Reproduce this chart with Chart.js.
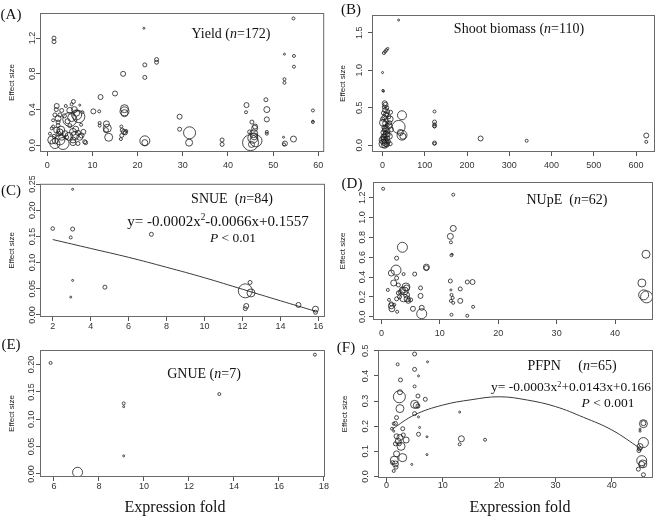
<!DOCTYPE html>
<html><head><meta charset="utf-8">
<script src="https://cdn.jsdelivr.net/npm/chart.js@4"></script>
<style>
html,body{margin:0;padding:0;background:#fff;}
#wrap{position:relative;width:658px;height:518px;overflow:hidden;background:#fff;}
#wrap canvas{position:absolute;}
.t{position:absolute;font-family:"Liberation Serif","Times New Roman",serif;font-size:15px;color:#111;white-space:nowrap;line-height:1;transform:translate(-50%,-50%);}
.t sup{font-size:0.62em;vertical-align:0.55em;line-height:0;}
</style></head><body><div id="wrap"></div>
<script>
// ---------- DATA ----------
// (A) Yield
const A_X = [1.5,1.5,21.4,21.6,21.6,24.2,24.2,16.8,15.0,11.8,
 10.2,11.5,17.1,17.1,17.1,11.6,11.6,13.1,13.3,13.6,
 13.0,16.4,16.6,17.0,17.3,16.5,16.3,17.5,21.6,21.6,
 29.3,29.3,31.5,31.4,38.7,38.7,44.1,44.0,45.0,45.5,
 45.7,45.9,45.3,46.2,45.2,45.8,46.0,44.8,48.4,48.6,
 48.6,48.6,48.6,52.5,52.5,52.5,52.3,52.6,52.4,54.5,
 54.6,54.6,54.5,58.8,58.8,58.8,8.5,2.1,4.1,5.4,
 5.8,7.2,3.2,5.0,5.4,6.5,7.0,5.0,1.7,1.3,
 2.4,2.1,2.8,1.3,1.0,1.7,3.5,3.2,3.9,5.7,
 6.1,5.7,7.6,8.0,6.8,8.3,5.0,4.3,2.4,0.6,
 2.8,2.4,2.8,6.5,7.2,5.7,6.0,2.5,1.5,3.0,
 4.5,6.3,7.8,1.0,3.8,4.8,1.8,7.5,6.8,2.0];
const A_Y = [1.20,1.16,1.31,0.90,0.76,0.96,0.93,0.80,0.58,0.54,
 0.38,0.38,0.41,0.38,0.36,0.25,0.22,0.24,0.19,0.09,
 0.17,0.21,0.17,0.15,0.14,0.11,0.07,0.16,0.05,0.03,
 0.32,0.18,0.14,0.03,0.06,0.01,0.45,0.37,0.03,0.08,
 0.13,0.19,0.26,0.05,0.01,0.10,0.21,0.15,0.51,0.40,
 0.29,0.15,0.13,1.02,0.74,0.70,0.09,0.02,0.01,1.42,
 1.00,0.88,0.07,0.39,0.26,0.27,0.03,0.44,0.44,0.46,
 0.49,0.45,0.39,0.39,0.31,0.36,0.32,0.29,0.34,0.28,
 0.26,0.17,0.15,0.21,0.06,0.02,0.02,0.09,0.13,0.15,
 0.11,0.06,0.11,0.15,0.02,0.04,0.22,0.09,0.22,0.13,
 0.34,0.30,0.06,0.34,0.09,0.03,0.40,0.13,0.10,0.17,
 0.27,0.18,0.37,0.19,0.33,0.10,0.05,0.23,0.14,0.40];
const A_W = [2,2,1,2,2,2,2,2.5,2.5,2.5,
 2.5,1.5,4,4.5,3.5,1.5,1.5,3,4,4,
 2.5,1.5,2,2.5,2,2,1.5,1.5,5,3,
 2.5,2,6,3.5,2,2,2.5,1.5,8,5,
 4,3,2,6,3,3.5,2.5,2,2,3,
 2.5,1.5,1.5,1,1.5,1.5,1,2.5,1.5,1.5,
 1.5,1.5,3,1.5,1.5,1,2,2.5,1.5,1.5,
 2,1,2,3,4,3,6,7,2,1.5,
 2,3,3,1.5,4,5,6,3,3,3.5,
 4,3,2.5,2.5,2,2,2,2,2,1.5,
 2,3,5,5,3,3,3,2.5,2,4,
 2.5,3,1.5,1.5,2,4,3,1.5,2.5,2];

// (B) Shoot biomass
const B_X = [38,3,6,9,12,0,1,2,
 5,7,4,10,6,12,2,8,15,4,
 18,9,1,6,11,15,3,7,20,13,
 2,9,5,16,1,11,0,6,14,3,
 8,1,10,5,18,2,12,4,8,17,
 0,10,19,3,7,
 46,38,46,48,42,123,123,123,123,123,123,123,232,341,624,624];
const B_Y = [1.67,1.23,1.25,1.27,1.29,0.97,0.73,0.72,
 0.56,0.54,0.51,0.50,0.47,0.45,0.43,0.41,0.38,0.37,
 0.35,0.33,0.30,0.29,0.27,0.26,0.24,0.22,0.21,0.19,
 0.17,0.15,0.13,0.12,0.10,0.09,0.07,0.06,0.05,0.04,
 0.03,0.02,0.01,0.00,0.02,0.08,0.14,0.20,0.25,0.30,
 0.35,0.40,0.44,0.11,0.17,
 0.40,0.245,0.135,0.12,0.17,0.45,0.31,0.28,0.26,0.25,0.03,0.02,0.09,0.06,0.13,0.045];
const B_W = [1,1.5,1.5,1.5,1.2,1,1.2,1,
 2.5,2.5,2,2,2.5,2,2,2.5,2,2.5,
 3,2,3.5,2.5,2,3,2,3,2.5,2,
 2.5,3,2.5,3,2,2.5,3.5,3,2,3,
 3.5,4,2.5,3,2,2.5,2.5,2,2,2,
 2,2,2,3,2,
 4.5,6.5,5,3,3,1.5,2,1.5,2,1.5,2,1.5,2.5,1.5,2.5,1.5];

// (C) SNUE
const C_X = [2.0,3.05,2.95,3.05,3.05,2.95,4.75,7.2,12.15,12.4,12.45,12.2,12.15,14.95,15.85,15.85];
const C_Y = [0.165,0.240,0.148,0.164,0.066,0.034,0.053,0.154,0.046,0.062,0.042,0.017,0.012,0.019,0.011,0.005];
const C_W = [1.8,1,1.5,2,1,1,2,2,7,2,4,2.5,2,2.5,3,2];
const C_FIT_X = [2.0,4,6,8,10,12,14,15.85];
const C_FIT_Y = [0.144,0.127,0.110,0.091,0.071,0.049,0.027,0.007];

// (D) NUpE
const D_X = [0.3,12.3,12.3,11.8,11.9,12.0,12.1,3.6,2.6,7.7,
 7.7,1.7,2.5,3.8,5.7,2.6,2.1,2.9,4.2,4.3,
 3.9,3.6,3.2,2.9,1.1,1.3,1.7,1.7,1.8,2.6,
 2.7,3.8,4.3,4.4,4.6,5.4,6.7,6.7,6.9,6.9,
 11.8,11.9,12.0,12.2,11.9,12.3,12.0,13.5,13.5,14.7,
 15.6,15.7,14.7,44.6,45.3,44.9,45.4,3.1,2.2,5.0];
const D_Y = [1.29,1.23,0.89,0.81,0.75,0.62,0.63,0.70,0.59,0.50,
 0.49,0.44,0.47,0.43,0.43,0.39,0.34,0.32,0.30,0.29,
 0.26,0.27,0.25,0.24,0.27,0.17,0.13,0.11,0.08,0.18,
 0.05,0.19,0.22,0.18,0.16,0.08,0.29,0.21,0.09,0.03,
 0.36,0.27,0.22,0.19,0.16,0.14,0.02,0.28,0.16,0.35,
 0.35,0.10,0.01,0.34,0.63,0.22,0.20,0.20,0.12,0.17];
const D_W = [1.5,1.5,3,3,1.5,1.5,1,5,2,3,
 2.5,3,5,1.5,2,2,3,2,4,3,
 4,3,2,2,1.5,1.5,2,3,3,2,
 1.5,4,3,3,2.5,2.5,2,2.5,2.5,5,
 2,1,1.5,1.5,1.5,1.5,1.5,2,2.5,2,
 2.5,1.5,1.5,4,4,5,6,2,1.5,2];

// (E) GNUE
const E_X = [5.85,7.05,9.1,9.1,9.1,13.35,17.6];
const E_Y = [0.203,0.003,0.129,0.123,0.033,0.146,0.218];
const E_W = [1.5,5,1.5,1,1,1.5,1.5];

// (F) PFPN
const F_X = [5.0,2.0,7.3,5.0,5.7,2.5,5.0,2.3,2.4,5.6,
 6.9,5.0,5.3,2.4,5.6,5.0,5.7,1.8,1.6,1.3,
 13.0,2.9,1.3,5.9,1.8,2.4,2.1,1.6,2.6,3.5,
 2.3,5.7,7.2,13.3,13.0,17.5,7.2,2.9,1.8,1.4,
 1.6,1.1,1.7,1.3,4.5,45.6,45.6,45.0,45.0,45.6,
 45.0,44.9,44.8,45.3,45.5,45.3,44.7,45.6,1.0,3.0];
const F_Y = [0.487,0.446,0.456,0.426,0.400,0.384,0.358,0.317,0.335,0.320,
 0.307,0.287,0.283,0.270,0.280,0.250,0.237,0.234,0.211,0.210,
 0.256,0.190,0.180,0.195,0.160,0.155,0.140,0.130,0.120,0.145,
 0.130,0.168,0.158,0.150,0.128,0.146,0.087,0.075,0.090,0.065,
 0.050,0.055,0.037,0.022,0.048,0.212,0.210,0.188,0.180,0.135,
 0.119,0.110,0.103,0.063,0.050,0.048,0.029,0.007,0.190,0.165];
const F_W = [2,1.5,1,2,1,2,1.5,6,2.5,2,
 2,4,3,4,2,2,1,2,2,1.5,
 1,2,1,1,2.5,3,3,2,4,3,
 2,2,1,3,1.5,1.5,1,4,3,4,
 3,2,2,1.5,1,2.5,4,1,1,5,
 3,2,2,5,4,3,2,2,1.5,2];
const F_FIT_X = [1,5,10,15,20,25,30,35,40,45];
const F_FIT_Y = [0.188,0.245,0.284,0.305,0.317,0.304,0.278,0.235,0.185,0.112];

// tick values
const A_XTICKS=[0,10,20,30,40,50,60], A_YTICKS=[0,0.4,0.8,1.2];
const B_XTICKS=[0,100,200,300,400,500,600], B_YTICKS=[0,0.5,1.0,1.5];
const C_XTICKS=[2,4,6,8,10,12,14,16], C_YTICKS=[0,0.05,0.10,0.15,0.20,0.25];
const D_XTICKS=[0,10,20,30,40], D_YTICKS=[0,0.2,0.4,0.6,0.8,1.0,1.2];
const E_XTICKS=[6,8,10,12,14,16,18], E_YTICKS=[0,0.05,0.10,0.15,0.20];
const F_XTICKS=[0,10,20,30,40], F_YTICKS=[0,0.1,0.2,0.3,0.4,0.5];

// ---------- LAYOUT ----------
const PANELS = [
 {xs:A_X,ys:A_Y,ws:A_W,xt:A_XTICKS,yt:A_YTICKS,ydec:1,box:[40,13,325,152],xr:[-1.6,61.3],yr:[-0.075,1.481],ytl:12,yoff:7,xoff:14,padTop:10},
 {xs:B_X,ys:B_Y,ws:B_W,xt:B_XTICKS,yt:B_YTICKS,ydec:1,box:[372,15,655,152],xr:[-25,644.7],yr:[-0.09,1.738],ytl:343,yoff:12,xoff:14,padTop:10},
 {xs:C_X,ys:C_Y,ws:C_W,xt:C_XTICKS,yt:C_YTICKS,ydec:2,box:[40,182,325,317],xr:[1.33,16.35],yr:[-0.004,0.2505],ytl:12,yoff:7,xoff:10,padTop:6,fx:C_FIT_X,fy:C_FIT_Y},
 {xs:D_X,ys:D_Y,ws:D_W,xt:D_XTICKS,yt:D_YTICKS,ydec:1,box:[373,182,653,320],xr:[-1.44,46.5],yr:[-0.033,1.358],ytl:343,yoff:10,xoff:14,padTop:10},
 {xs:E_X,ys:E_Y,ws:E_W,xt:E_XTICKS,yt:E_YTICKS,ydec:2,box:[40,350,325,477],xr:[5.38,18.05],yr:[-0.0056,0.2266],ytl:12,yoff:8,xoff:9.5,padTop:10},
 {xs:F_X,ys:F_Y,ws:F_W,xt:F_XTICKS,yt:F_YTICKS,ydec:1,box:[378,350,653,478],xr:[-1.49,47.3],yr:[-0.006,0.503],ytl:345,yoff:12,xoff:8,padTop:10,fx:F_FIT_X,fy:F_FIT_Y}
];

const TEXTS = [
 ['(A)',11,14,15],['(B)',351,9,15],['(C)',11,190,15],['(D)',352,183,15],['(E)',11,344,15],['(F)',346,347,15],
 ['Yield (<i>n</i>=172)',231,34,14],
 ['Shoot biomass (<i>n</i>=110)',519,29,14],
 ['SNUE&nbsp;&nbsp;(<i>n</i>=84)',232,199,14],
 ['y= -0.0002x<sup>2</sup>-0.0066x+0.1557',218,221,15],
 ['<i>P</i> &lt; 0.01',233,238,13.5],
 ['NUpE&nbsp;&nbsp;(<i>n</i>=62)',567,200,14],
 ['GNUE (<i>n</i>=7)',204,374,14],
 ['PFPN&nbsp;&nbsp;&nbsp;&nbsp;&nbsp;(<i>n</i>=65)',572,366,14],
 ['y= -0.0003x<sup>2</sup>+0.0143x+0.166',571,387,13.5],
 ['<i>P</i> &lt; 0.001',608,403,13.5],
 ['Expression fold',175,507,16],
 ['Expression fold',520,507,16]
];

// ---------- RENDER ----------
const wrap = document.getElementById('wrap');
const TICK = 4;
const TICKFONT = {family:'"Liberation Sans", Arial, sans-serif', size:9};
const mctx = document.createElement('canvas').getContext('2d');
mctx.font = '9px "Liberation Sans"';

const boxPlugin = {id:'box', afterDatasetsDraw(c){
  const {ctx, chartArea:a} = c;
  ctx.save(); ctx.strokeStyle='#6a6a6a'; ctx.lineWidth=1;
  ctx.strokeRect(a.left+0.5, a.top+0.5, a.right-a.left-1, a.bottom-a.top-1);
  ctx.restore();
}};

PANELS.forEach(p=>{
  const [l,t,r,b] = p.box;
  const padTop = p.padTop, padRight = 8, Hx = 24;
  const titleLH = 8*1.2;
  const left = Math.round(p.ytl - titleLH/2);
  const Wy = l - left;
  const W = Wy + (r-l) + padRight, H = padTop + (b-t) + Hx;
  const cv = document.createElement('canvas');
  cv.width = W; cv.height = H;
  cv.style.left = left+'px'; cv.style.top = (t-padTop)+'px';
  cv.style.width = W+'px'; cv.style.height = H+'px';
  wrap.appendChild(cv);
  const ylabels = p.yt.map(v=>v.toFixed(p.ydec));
  const widest = Math.max(...ylabels.map(s=>mctx.measureText(s).width));
  const ypad = p.yoff - TICK - widest/2;
  const xpad = p.xoff - TICK - 5.4;
  const datasets = [{type:'bubble', data:p.xs.map((x,i)=>({x:x, y:p.ys[i], r:p.ws[i]})),
     borderColor:'#1e1e1e', borderWidth:0.8, backgroundColor:'rgba(0,0,0,0)', hoverRadius:0}];
  if (p.fx) datasets.push({type:'line', data:p.fx.map((x,i)=>({x:x, y:p.fy[i]})),
     borderColor:'#3a3a3a', borderWidth:1, pointRadius:0, tension:0.4, fill:false});
  new Chart(cv, {
    type:'bubble',
    data:{datasets},
    options:{
      responsive:false, animation:false, devicePixelRatio:1, events:[],
      layout:{padding:{top:padTop,right:padRight,left:0,bottom:0}},
      plugins:{legend:{display:false}, tooltip:{enabled:false}},
      scales:{
        x:{type:'linear', position:'bottom', min:p.xr[0], max:p.xr[1],
           grid:{display:true, drawOnChartArea:false, drawTicks:true, tickLength:TICK, color:'#555'},
           border:{display:false},
           ticks:{font:TICKFONT, color:'#333', padding:xpad, autoSkip:false, maxRotation:0, minRotation:0,
                  callback:(v)=>String(v)},
           afterBuildTicks:(s)=>{ s.ticks = p.xt.map(v=>({value:v})); },
           afterFit:(s)=>{ s.height = Hx; }},
        y:{type:'linear', position:'left', min:p.yr[0], max:p.yr[1],
           grid:{display:true, drawOnChartArea:false, drawTicks:true, tickLength:TICK, color:'#555'},
           border:{display:false},
           ticks:{font:TICKFONT, color:'#333', padding:ypad, autoSkip:false, minRotation:90, maxRotation:90,
                  crossAlign:'center', callback:(v)=>Number(v).toFixed(p.ydec)},
           title:{display:true, text:'Effect size', font:{family:'"Liberation Sans", Arial, sans-serif', size:8}, color:'#222', padding:0},
           afterBuildTicks:(s)=>{ s.ticks = p.yt.map(v=>({value:v})); },
           afterFit:(s)=>{ s.width = Wy; }}
      }
    },
    plugins:[boxPlugin]
  });
});

TEXTS.forEach(([h,x,y,fs])=>{
  const d=document.createElement('div'); d.className='t'; d.innerHTML=h;
  d.style.fontSize=fs+'px'; d.style.left=x+'px'; d.style.top=y+'px'; wrap.appendChild(d);
});
</script>
</body></html>
